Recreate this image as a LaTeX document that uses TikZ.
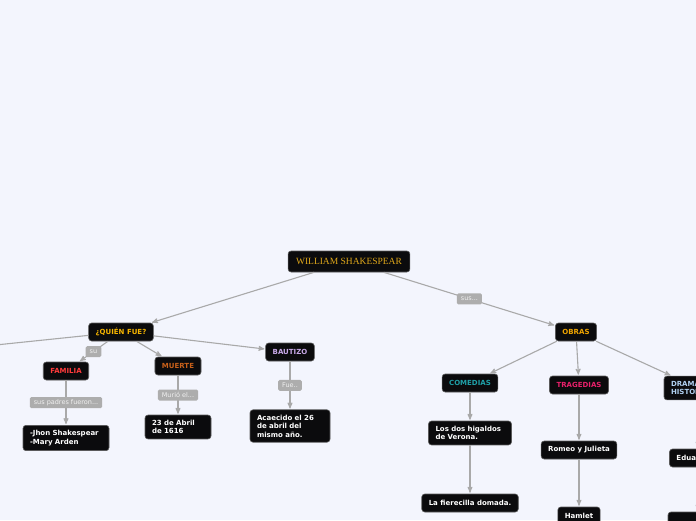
\documentclass[tikz,border=0pt]{standalone}
\usepackage{fontspec}
\setmainfont{DejaVu Sans}
\newfontfamily\titlefont{Liberation Serif}
\usepackage{tikz}
\usetikzlibrary{arrows}
\usetikzlibrary{positioning}

\definecolor{bgcol}{HTML}{F3F5FD}
\definecolor{boxcol}{HTML}{0B0B0D}
\definecolor{rimcol}{HTML}{5A5A5A}
\definecolor{linecol}{HTML}{A9A9A9}
\definecolor{lblcol}{HTML}{ADADAD}
\definecolor{lbltext}{HTML}{F0F0F0}
\definecolor{titlecol}{HTML}{E0A81A}
\definecolor{quiencol}{HTML}{F5B400}
\definecolor{obrascol}{HTML}{F0A500}
\definecolor{famcol}{HTML}{FF3B3B}
\definecolor{muertecol}{HTML}{C8601A}
\definecolor{bautcol}{HTML}{C8A8E8}
\definecolor{comcol}{HTML}{1FA0A8}
\definecolor{tragcol}{HTML}{E8206A}
\definecolor{dramcol}{HTML}{B0D0F0}

\begin{document}
\begin{tikzpicture}[x=1pt,y=-1pt,->,>=stealth',shorten >=1pt,
                    every edge/.style={draw=linecol,line width=1.1pt},
                    main node/.style={rectangle,rounded corners=3pt,fill=boxcol,draw=rimcol,
                        line width=0.6pt,text=white,font=\bfseries\fontsize{7}{8.5}\selectfont,
                        inner xsep=7pt,inner ysep=5pt,minimum height=18pt,align=left},
                    title node/.style={main node,text=titlecol,inner xsep=8pt,minimum height=21pt,
                        font=\titlefont\fontsize{9.5}{11}\selectfont},
                    lbl/.style={fill=lblcol,text=lbltext,font=\fontsize{6.5}{7}\selectfont,
                        rounded corners=1.5pt,inner xsep=4pt,inner ysep=2pt,minimum height=11pt}]
    \path[use as bounding box,fill=bgcol] (0,0) rectangle (696,520);
    \clip (0,0) rectangle (696,520);

    \node[title node] (WS) at (349,261.5) {WILLIAM SHAKESPEAR};
    \node[main node,text=quiencol] (QF) at (121,332) {¿QUIÉN FUE?};
    \node[main node,text=obrascol] (OB) at (576,332) {OBRAS};
    \coordinate (L) at (-120,357);

    \node[main node,text=famcol] (FA) at (66,371) {FAMILIA};
    \node[main node,text=muertecol] (MU) at (178,366) {MUERTE};
    \node[main node,text=bautcol] (BA) at (290,352) {BAUTIZO};
    \node[main node,text width=72pt] (PA) [below of=FA,node distance=67pt] {-Jhon Shakespear\\-Mary Arden};
    \node[main node,text width=52pt] (FE) [below of=MU,node distance=61pt] {23 de Abril\\de 1616};
    \node[main node,text width=66pt] (AC) [below of=BA,node distance=74pt] {Acaecido el 26\\de abril del\\mismo año.};

    \node[main node,text=comcol] (CO) at (470,383) {COMEDIAS};
    \node[main node,text=tragcol] (TR) at (579,385) {TRAGEDIAS};
    \node[main node,text=dramcol,text width=54pt] (DR) at (698,388) {DRAMAS\\HISTORICOS};
    \node[main node,text width=69pt] (VE) [below of=CO,node distance=50pt] {Los dos higaldos\\de Verona.};
    \node[main node] (FI) [below of=VE,node distance=70pt] {La fierecilla domada.};
    \node[main node] (RJ) [below of=TR,node distance=65pt] {Romeo y Julieta};
    \node[main node] (HA) [below of=RJ,node distance=66pt] {Hamlet};
    \node[main node] (ED) [below of=DR,node distance=70pt] {Eduardo III};
    \node[main node,minimum width=60pt] (R3) [below of=ED,node distance=63pt] {};

    \path
        (WS)
        edge (QF)
        edge node[lbl] {sus...} (OB)

        (QF)
        edge (L)
        edge node[lbl] {su} (FA)
        edge (MU)
        edge (BA)

        (FA) edge node[lbl] {sus padres fueron...} (PA)
        (MU) edge node[lbl] {Murió el...} (FE)
        (BA) edge node[lbl] {Fue..} (AC)

        (OB)
        edge (CO)
        edge (TR)
        edge (DR)

        (CO) edge (VE)
        (VE) edge (FI)
        (TR) edge (RJ)
        (RJ) edge (HA)
        (DR) edge (ED)
        (ED) edge (R3);
\end{tikzpicture}
\end{document}
